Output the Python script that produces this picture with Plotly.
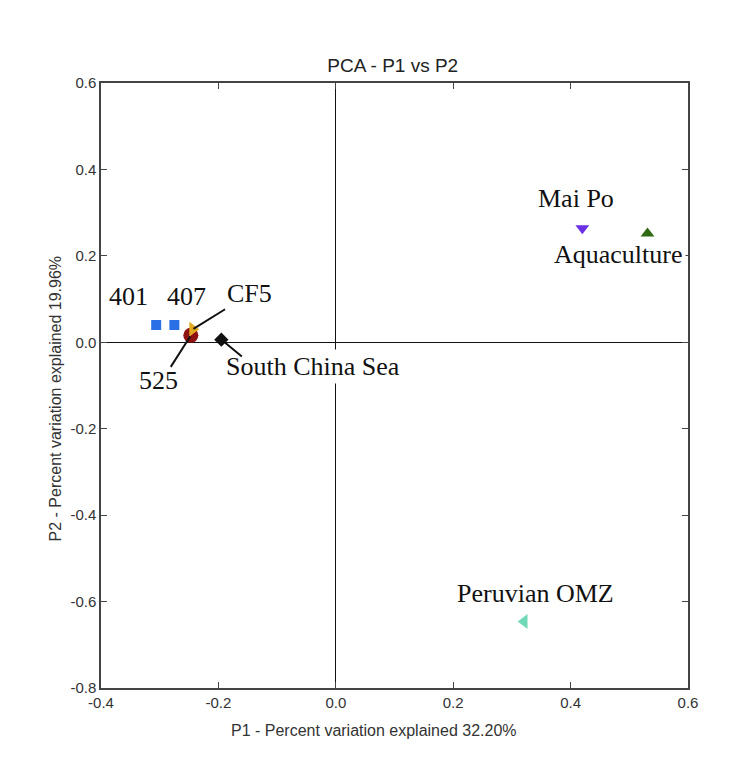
import plotly.graph_objects as go

# ---- data ----
samples = ["401", "407", "525", "CF5", "South China Sea", "Mai Po", "Aquaculture", "Peruvian OMZ"]
p1 = [-0.306, -0.275, -0.247, -0.244, -0.195, 0.420, 0.531, 0.321]
p2 = [0.040, 0.040, 0.016, 0.030, 0.006, 0.264, 0.252, -0.646]
x_ticks = [-0.4, -0.2, 0.0, 0.2, 0.4, 0.6]
y_ticks = [-0.8, -0.6, -0.4, -0.2, 0.0, 0.2, 0.4, 0.6]

# ---- styles ----
symbols = ["square", "square", "circle", "triangle-right", "diamond",
           "triangle-down", "triangle-up", "triangle-left"]
colors = ["#2b6fe6", "#2b6fe6", "#8e1212", "#e2a81e", "#111111",
          "#6a30e6", "#2f6a12", "#6fd8b8"]
sizes = [10, 10, 15, 13, 11, 12, 12, 13]
# label offsets in pixels (text centre relative to point)
label_shift = {
    "401": (-28, 29), "407": (12, 29), "525": (-32, -45), "CF5": (57, 36),
    "South China Sea": (92, -27), "Mai Po": (-6, 30), "Aquaculture": (-29, -21),
    "Peruvian OMZ": (11, 28),
}
# leader lines: tail offset in pixels (ax, ay)
leaders = {"CF5": (34, -21), "525": (-21, 33), "South China Sea": (22, 18)}

fig = go.Figure()
for i, name in enumerate(samples):
    fig.add_trace(go.Scatter(
        x=[p1[i]], y=[p2[i]], mode="markers", name=name, showlegend=False,
        marker=dict(symbol=symbols[i], color=colors[i], size=sizes[i], line=dict(width=0)),
    ))

annotations = []
for i, name in enumerate(samples):
    dx, dy = label_shift[name]
    annotations.append(dict(
        x=p1[i], y=p2[i], xref="x", yref="y", text=name, showarrow=False,
        xshift=dx, yshift=dy, xanchor="center", yanchor="middle",
        font=dict(family="Liberation Serif", size=26, color="#111111"),
        bgcolor="white", borderpad=2,
    ))
for name, (ax, ay) in leaders.items():
    i = samples.index(name)
    annotations.append(dict(
        x=p1[i], y=p2[i], xref="x", yref="y", text="", showarrow=True,
        ax=ax, ay=ay, arrowhead=0, arrowwidth=2, arrowcolor="#111111",
        standoff=1, font=dict(size=1),
    ))

# axis titles
annotations.append(dict(
    x=0.4646, y=-0.07, xref="paper", yref="paper", showarrow=False,
    text="P1 - Percent variation explained 32.20%", xanchor="center", yanchor="middle",
    font=dict(family="Liberation Sans", size=16, color="#333333"),
))
annotations.append(dict(
    x=-0.078, y=0.479, xref="paper", yref="paper", showarrow=False, textangle=-90,
    text="P2 - Percent variation explained 19.96%", xanchor="center", yanchor="middle",
    font=dict(family="Liberation Sans", size=16, color="#333333"),
))

axis_common = dict(
    showgrid=False, showline=True, linecolor="#444444", linewidth=1.5, mirror="ticks",
    ticks="inside", ticklen=6, tickwidth=1.2, tickcolor="#444444",
    zeroline=True, zerolinecolor="#111111", zerolinewidth=1,
    tickfont=dict(family="Liberation Sans", size=15, color="#333333"),
)

fig.update_layout(
    width=744, height=750,
    margin=dict(l=93, r=64, t=75, b=70),
    paper_bgcolor="white", plot_bgcolor="white",
    title=dict(text="PCA - P1 vs P2", x=0.497, xref="paper", y=0.924, yref="container",
               xanchor="center", yanchor="middle",
               font=dict(family="Liberation Sans", size=19, color="#222222")),
    xaxis=dict(range=[-0.4, 0.6], tickvals=x_ticks,
               ticktext=[f"{v:.1f}" for v in x_ticks], **axis_common),
    yaxis=dict(range=[-0.8, 0.6], tickvals=y_ticks,
               ticktext=[f"{v:.1f}" for v in y_ticks], **axis_common),
    annotations=annotations,
)

fig.write_html("out.html")
